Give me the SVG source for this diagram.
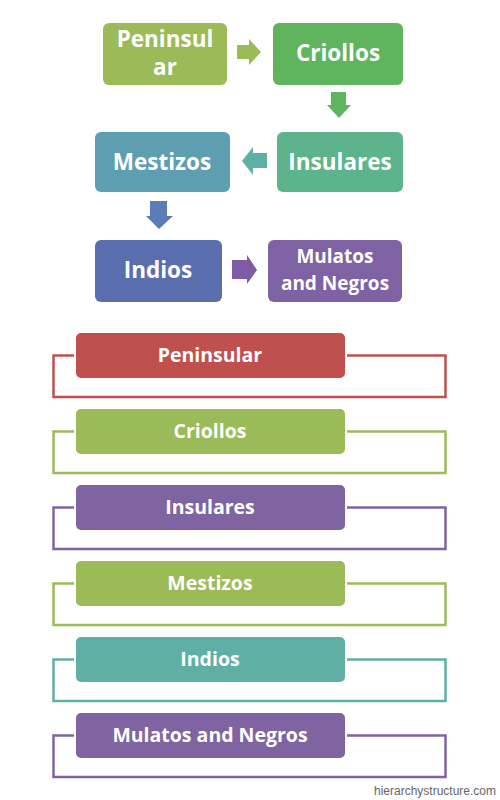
<svg xmlns="http://www.w3.org/2000/svg" width="500" height="800" viewBox="0 0 500 800">
<style>
.t{font-family:"Open Sans","Noto Sans","Liberation Sans",sans-serif;font-weight:bold;fill:#fff;text-anchor:middle}
.big{font-size:22.5px}
.mid{font-size:19px}
.lst{font-size:19.5px}
.br{fill:none;stroke-width:2.5}
.lb{stroke:#fff;stroke-width:2}
</style>
<rect width="500" height="800" fill="#fff"/>
<g id="connectors">
<polygon points="237,45 249,45 249,39 261,52 249,65 249,59 237,59" fill="#9BBB59"/>
<polygon points="331,92 346,92 346,105 351,105 339,118 327,105 331,105" fill="#5DB65D"/>
<polygon points="267,153 253,153 253,147 242,161 253,175 253,168 267,168" fill="#5CB0A4"/>
<polygon points="150,201 167,201 167,216 173,216 159,229 146,216 150,216" fill="#5A7DB8"/>
<polygon points="232,260 247,260 247,255 257,270 247,284 247,279 232,279" fill="#7D5BA6"/>
</g>
<g id="top-peninsular"><rect x="103" y="23" width="124" height="62" rx="6" fill="#9BBB59"/><text class="t big" x="165" y="47">Peninsul</text><text class="t big" x="165" y="75">ar</text></g>
<g id="top-criollos"><rect x="273" y="23" width="130" height="62" rx="6" fill="#60B45E"/><text class="t big" x="338" y="61">Criollos</text></g>
<g id="top-insulares"><rect x="277" y="132" width="126" height="60" rx="6" fill="#5DB38C"/><text class="t big" x="340" y="170">Insulares</text></g>
<g id="top-mestizos"><rect x="95" y="132" width="135" height="60" rx="6" fill="#5D9FB0"/><text class="t big" x="162" y="170">Mestizos</text></g>
<g id="top-indios"><rect x="95" y="240" width="127" height="62" rx="6" fill="#5A6EAE"/><text class="t big" x="158" y="278">Indios</text></g>
<g id="top-mulatos"><rect x="268" y="240" width="134" height="62" rx="6" fill="#7E62A4"/><text class="t mid" x="335" y="263">Mulatos</text><text class="t mid" x="335" y="290">and Negros</text></g>

<g id="list-peninsular">
<path class="br" stroke="#C0504D" d="M75,355.5 H53.5 V397 H445.5 V355.5 H346"/>
<rect class="lb" x="75" y="332" width="271" height="47" rx="6" fill="#C0504D"/>
<text class="t lst" x="210" y="362">Peninsular</text></g>
<g id="list-criollos">
<path class="br" stroke="#9BBB59" d="M75,431.5 H53.5 V473 H445.5 V431.5 H346"/>
<rect class="lb" x="75" y="408" width="271" height="47" rx="6" fill="#9BBB59"/>
<text class="t lst" x="210" y="438">Criollos</text></g>
<g id="list-insulares">
<path class="br" stroke="#8064A2" d="M75,507.5 H53.5 V549 H445.5 V507.5 H346"/>
<rect class="lb" x="75" y="484" width="271" height="47" rx="6" fill="#8064A2"/>
<text class="t lst" x="210" y="514">Insulares</text></g>
<g id="list-mestizos">
<path class="br" stroke="#9BBB59" d="M75,583.5 H53.5 V625 H445.5 V583.5 H346"/>
<rect class="lb" x="75" y="560" width="271" height="47" rx="6" fill="#9BBB59"/>
<text class="t lst" x="210" y="590">Mestizos</text></g>
<g id="list-indios">
<path class="br" stroke="#5FAFA5" d="M75,659.5 H53.5 V701 H445.5 V659.5 H346"/>
<rect class="lb" x="75" y="636" width="271" height="47" rx="6" fill="#5FAFA5"/>
<text class="t lst" x="210" y="666">Indios</text></g>
<g id="list-mulatos">
<path class="br" stroke="#8064A2" d="M75,735.5 H53.5 V777 H445.5 V735.5 H346"/>
<rect class="lb" x="75" y="712" width="271" height="47" rx="6" fill="#8064A2"/>
<text class="t lst" x="210" y="742">Mulatos and Negros</text></g>
<text x="496" y="795" font-family="Liberation Sans,Arial,sans-serif" font-size="12" fill="#666" text-anchor="end">hierarchystructure.com</text>
</svg>
